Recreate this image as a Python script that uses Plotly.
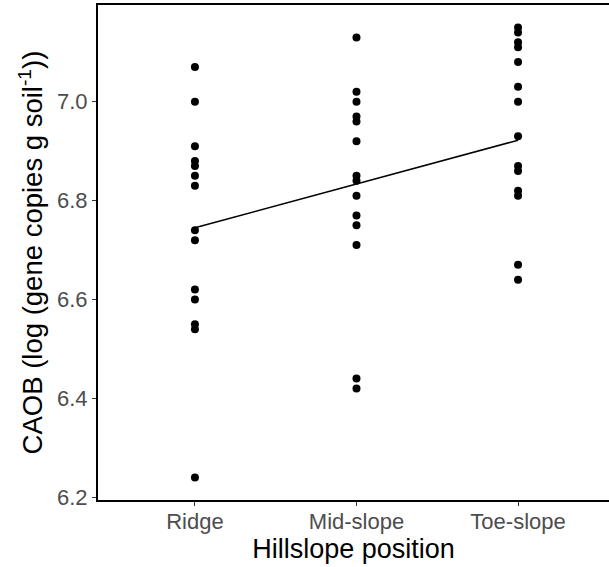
import numpy as np
import plotly.graph_objects as go

positions = ["Ridge", "Mid-slope", "Toe-slope"]

ridge = [7.07, 7.00, 6.91, 6.88, 6.87, 6.85, 6.83, 6.74, 6.72, 6.62, 6.60, 6.55, 6.54, 6.24]
mid_slope = [7.13, 7.02, 7.00, 6.97, 6.96, 6.92, 6.85, 6.84, 6.81, 6.77, 6.75, 6.71, 6.44, 6.42]
toe_slope = [7.15, 7.14, 7.12, 7.11, 7.08, 7.03, 7.00, 6.93, 6.87, 6.86, 6.82, 6.81, 6.67, 6.64]

# fitted trend at the two end positions (Ridge, Toe-slope)
trend_positions = [1, 3]
trend_fit = [6.745, 6.922]

y_ticks = [6.2, 6.4, 6.6, 6.8, 7.0]

groups = [ridge, mid_slope, toe_slope]
xs = np.concatenate([[i + 1] * len(g) for i, g in enumerate(groups)]).astype(float)
ys = np.concatenate(groups)

ymin, ymax = ys.min(), ys.max()
pad = 0.05 * (ymax - ymin)

fig = go.Figure()
fig.add_trace(go.Scatter(
    x=xs, y=ys, mode="markers",
    marker=dict(color="black", size=8),
    hoverinfo="skip", showlegend=False,
))
fig.add_trace(go.Scatter(
    x=trend_positions, y=trend_fit, mode="lines",
    line=dict(color="black", width=1.6),
    hoverinfo="skip", showlegend=False,
))

fig.update_layout(
    width=609, height=567,
    margin=dict(l=98, r=0, t=5, b=67),
    plot_bgcolor="white", paper_bgcolor="white",
    font=dict(family="Liberation Sans, Arial, sans-serif", color="black"),
)
fig.update_xaxes(
    range=[0.4, 3.563],
    tickmode="array", tickvals=[1, 2, 3], ticktext=positions,
    showgrid=False, zeroline=False,
    showline=True, linecolor="black", linewidth=2, mirror=True,
    ticks="outside", ticklen=4, tickcolor="#333333", tickwidth=1,
    ticklabelstandoff=-3,
    tickfont=dict(size=22, color="#4d4d4d"),
    title=dict(text="Hillslope position", font=dict(size=27, color="black"), standoff=2),
)
fig.update_yaxes(
    range=[ymin - pad, ymax + pad],
    tickmode="array", tickvals=y_ticks, ticktext=[f"{v:.1f}" for v in y_ticks],
    showgrid=False, zeroline=False,
    showline=True, linecolor="black", linewidth=2,
    ticks="outside", ticklen=4, tickcolor="#333333", tickwidth=1,
    tickfont=dict(size=22, color="#4d4d4d"),
    title=dict(text="CAOB (log (gene copies g soil<sup>-1</sup>))",
               font=dict(size=27.5, color="black"), standoff=6),
)

fig.write_html("out.html")
